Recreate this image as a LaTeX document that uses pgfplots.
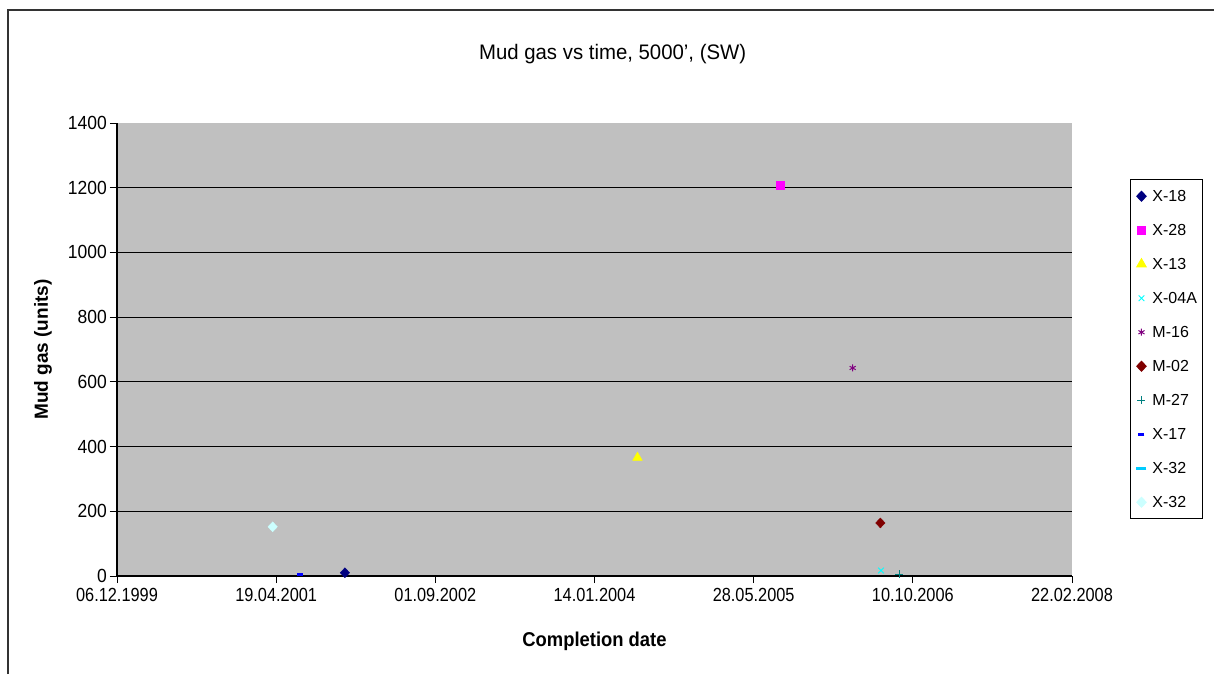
\documentclass[border=0pt]{standalone}
\usepackage{pgfplots}
\pgfplotsset{compat=1.18}
\usepackage{fontspec}
\setmainfont{Liberation Sans}
\definecolor{plotgray}{RGB}{192,192,192}
\definecolor{cnavy}{RGB}{0,0,128}
\definecolor{cmag}{RGB}{255,0,255}
\definecolor{cyel}{RGB}{255,255,0}
\definecolor{ccyan}{RGB}{0,255,255}
\definecolor{cpurp}{RGB}{128,0,128}
\definecolor{cdred}{RGB}{128,0,0}
\definecolor{cteal}{RGB}{0,128,128}
\definecolor{cblue}{RGB}{0,0,255}
\definecolor{csky}{RGB}{0,204,255}
\definecolor{clcyan}{RGB}{204,255,255}
\begin{document}
\begin{tikzpicture}[x=1pt,y=1pt]
\useasboundingbox (0,0) rectangle (1214,-674);
\draw[line width=1.2pt,black!80] (8,-674) -- (8,-10) -- (1214,-10);
\begin{axis}[
  at={(117pt,-576pt)}, anchor=south west,
  scale only axis, width=955pt, height=453pt,
  xmin=0, xmax=3000, ymin=0, ymax=1400,
  axis lines=left, axis line style={-, line width=1.2pt, black},
  axis background/.style={fill=plotgray},
  xtick={0,500,1000,1500,2000,2500,3000},
  xticklabels={06.12.1999,19.04.2001,01.09.2002,14.01.2004,28.05.2005,10.10.2006,22.02.2008},
  ytick={0,200,400,600,800,1000,1200,1400},
  extra y ticks={200,400,600,800,1000,1200},
  extra y tick labels={},
  extra y tick style={grid=major, major grid style={line width=1.2pt, black}},
  tick align=outside, major tick length=7pt,
  tick style={line width=1pt, black},
  /pgf/number format/assume math mode=true,
  /pgf/number format/set thousands separator={},
  xticklabel style={font=\fontsize{19}{21}\selectfont, xscale=0.86, yshift=-2pt},
  yticklabel style={font=\fontsize{19}{21}\selectfont, xscale=0.92},
  title={Mud gas vs time, 5000', (SW)},
  title style={at={(axis description cs:0.519,1.139)}, anchor=center, font=\fontsize{21}{24}\selectfont, xscale=0.97},
  xlabel={\bfseries Completion date},
  xlabel style={at={(axis description cs:0.5,-0.1446)}, anchor=center, font=\fontsize{20}{22}\selectfont, xscale=0.92},
  ylabel={\bfseries Mud gas (units)},
  ylabel style={at={(axis description cs:-0.0775,0.5)}, anchor=center, font=\fontsize{19}{21}\selectfont},
  legend style={at={(axis description cs:1.0607,0.8764)}, anchor=north west,
    font=\fontsize{16}{18}\selectfont, draw=black, line width=1pt, fill=white,
    nodes={inner sep=0pt, text height=11.5pt, text depth=0pt},
    row sep=22.5pt, column sep=6pt, inner xsep=6pt, inner ysep=11pt},
  legend cell align=left,
  legend image code/.code={\draw[mark repeat=2,mark phase=2,#1] plot coordinates {(0pt,0pt)(5pt,0pt)(10pt,0pt)};},
  only marks,
]
\addplot[mark=diamond*, mark size=5pt, color=cnavy, mark options={xscale=1.25}] coordinates {(716,10)};
\addlegendentry{X-18}
\addplot[mark=square*, mark size=4pt, color=cmag] coordinates {(2083,1208)};
\addlegendentry{X-28}
\addplot[mark=triangle*, mark size=5.5pt, color=cyel] coordinates {(1635,366)};
\addlegendentry{X-13}
\addplot[mark=x, mark size=4pt, color=ccyan, mark options={line width=1pt}] coordinates {(2400,17)};
\addlegendentry{X-04A}
\addplot[mark=asterisk, mark size=3.5pt, color=cpurp, mark options={line width=1pt}] coordinates {(2311,643)};
\addlegendentry{M-16}
\addplot[mark=diamond*, mark size=5pt, color=cdred, mark options={xscale=1.25}] coordinates {(2398,164)};
\addlegendentry{M-02}
\addplot[mark=+, mark size=4pt, color=cteal, mark options={line width=1pt}] coordinates {(2457,5)};
\addlegendentry{M-27}
\addplot[mark=-, mark size=3pt, color=cblue, mark options={line width=3pt}] coordinates {(575,6)};
\addlegendentry{X-17}
\addlegendimage{only marks, mark=-, mark size=5pt, color=csky, mark options={line width=3pt}}
\addlegendentry{X-32}
\addplot[mark=diamond*, mark size=5pt, color=clcyan, mark options={xscale=1.25}] coordinates {(489,152)};
\addlegendentry{X-32}
\end{axis}
\end{tikzpicture}
\end{document}
